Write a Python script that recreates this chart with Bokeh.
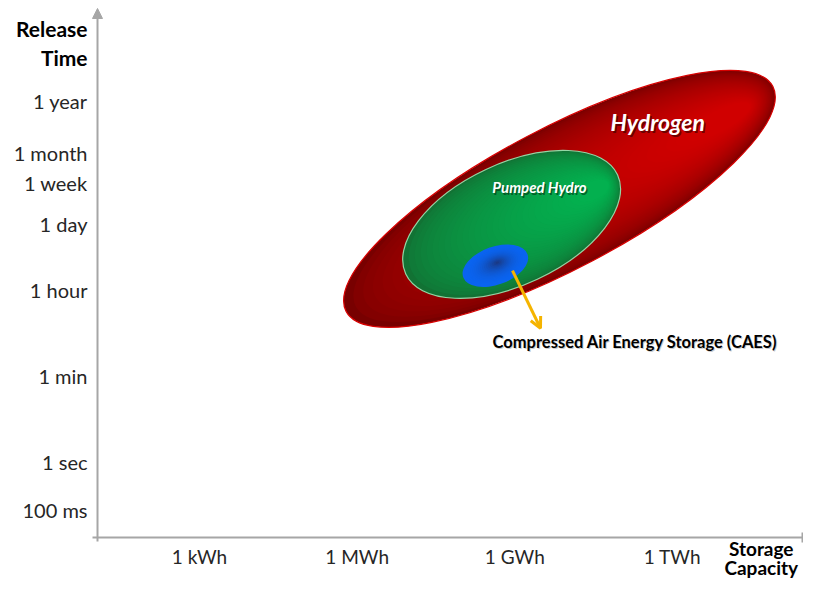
import numpy as np
from bokeh.plotting import figure
from bokeh.models import Range1d, FixedTicker, Label, Arrow, NormalHead, OpenHead, TeeHead, ColumnDataSource
from bokeh.embed import file_html
from bokeh.resources import INLINE

# ---------------- data ----------------
capacity_ticks = [3, 6, 9, 12]                       # log10(Wh)
capacity_labels = ["1 kWh", "1 MWh", "1 GWh", "1 TWh"]
time_seconds = [0.1, 1, 60, 3600, 86400, 604800, 2592000, 31536000]
time_labels = ["100 ms", "1 sec", "1 min", "1 hour", "1 day", "1 week", "1 month", "1 year"]

tech_names = ["Hydrogen", "Pumped Hydro", "Compressed Air Energy Storage (CAES)"]
tech_cap_center = [9.85, 8.94, 8.63]     # log10(Wh)
tech_time_center = [5.46, 4.93, 4.07]    # log10(s)
tech_cap_span = [9.18, 4.45, 1.30]       # decades
tech_time_span = [2.92, 2.52, 0.79]      # decades
tech_tilt_deg = [27.8, 25.1, 19.7]

# ---------------- figure ----------------
p = figure(width=803, height=583, output_backend="svg", toolbar_location=None,
           x_range=Range1d(-0.787, 14.494), y_range=Range1d(-2.536, 9.584),
           min_border=0, min_border_left=0, min_border_right=0,
           min_border_top=0, min_border_bottom=0)
p.grid.visible = False
p.outline_line_color = None
p.background_fill_color = "white"

X0, Y0 = 1.059, -1.580   # where the two axes cross

time_ticks = [round(float(np.log10(s)), 6) for s in time_seconds]
p.xaxis.ticker = FixedTicker(ticks=capacity_ticks)
p.xaxis.major_label_overrides = {t: l for t, l in zip(capacity_ticks, capacity_labels)}
p.yaxis.ticker = FixedTicker(ticks=time_ticks)
p.yaxis.major_label_overrides = {t: l for t, l in zip(time_ticks, time_labels)}
p.xaxis.fixed_location = Y0
p.yaxis.fixed_location = X0
for ax in (p.xaxis[0], p.yaxis[0]):
    ax.axis_line_color = None
    ax.major_tick_line_color = None
    ax.minor_tick_line_color = None
    ax.major_tick_out = 0
    ax.major_tick_in = 0
    ax.major_label_text_font = "Lato"
    ax.major_label_text_color = "#262626"
p.yaxis.major_label_text_font_size = "20px"
p.xaxis.major_label_text_font_size = "19px"
p.yaxis.major_label_standoff = 10
p.xaxis.major_label_standoff = 7

AX = "#a6a6a6"
# axis lines
p.add_layout(Arrow(end=NormalHead(size=10, fill_color=AX, line_color=AX),
                   x_start=X0, x_end=X0, y_start=-1.663, y_end=9.418,
                   line_color=AX, line_width=2))
p.add_layout(Arrow(end=TeeHead(size=10, line_color=AX, line_width=2),
                   x_start=0.964, x_end=14.475, y_start=Y0, y_end=Y0,
                   line_color=AX, line_width=2))


def mix(c0, c1, t):
    a = np.array([int(c0[i:i + 2], 16) for i in (1, 3, 5)], float)
    b = np.array([int(c1[i:i + 2], 16) for i in (1, 3, 5)], float)
    c = a + (b - a) * t
    return "#%02x%02x%02x" % tuple(int(round(v)) for v in c)


def shaded(i, focus, c_out, c_in, n, s_min, gamma):
    cx, cy = tech_cap_center[i], tech_time_center[i]
    fx, fy = focus
    xs, ys, ws, hs, cols = [], [], [], [], []
    for s in np.linspace(1.0, s_min, n):
        t = ((1 - s) / (1 - s_min)) ** gamma
        xs.append(fx + s * (cx - fx))
        ys.append(fy + s * (cy - fy))
        ws.append(tech_cap_span[i] * s)
        hs.append(tech_time_span[i] * s)
        cols.append(mix(c_out, c_in, t))
    src = ColumnDataSource(dict(x=xs, y=ys, w=ws, h=hs, c=cols))
    p.ellipse(x="x", y="y", width="w", height="h", angle=np.radians(tech_tilt_deg[i]),
              fill_color="c", line_color=None, source=src)


def rim(i, color, width):
    p.ellipse(x=tech_cap_center[i], y=tech_time_center[i], width=tech_cap_span[i],
              height=tech_time_span[i], angle=np.radians(tech_tilt_deg[i]),
              fill_color=None, line_color=color, line_width=width)


# Hydrogen
shaded(0, (13.4, 7.35), "#780000", "#d00000", 36, 0.15, 0.6)
rim(0, "#d80000", 1.2)
# Pumped hydro
shaded(1, (10.75, 5.75), "#127234", "#03b04f", 30, 0.15, 0.6)
rim(1, "#93d6a4", 1.2)
# CAES
shaded(2, (8.67, 4.14), "#0a64f0", "#1a3a86", 18, 0.05, 2.2)

# arrow to CAES label
p.add_layout(Arrow(end=OpenHead(size=11, line_color="#f5b400", line_width=3),
                   x_start=8.956, y_start=3.97, x_end=9.489, y_end=2.77,
                   line_color="#f5b400", line_width=3))

# in-chart labels
for dx, dy, col, alpha in ((1.5, -1.5, "#300000", 0.6), (0, 0, "white", 1.0)):
    p.add_layout(Label(x=11.72, y=7.05, x_offset=dx, y_offset=dy, text=tech_names[0],
                       text_font="Lato", text_font_style="bold italic", text_font_size="23px",
                       text_color=col, text_alpha=alpha, text_align="center", text_baseline="middle"))
    p.add_layout(Label(x=9.47, y=5.70, x_offset=dx, y_offset=dy, text=tech_names[1],
                       text_font="Lato", text_font_style="bold italic", text_font_size="15px",
                       text_color=col if col == "white" else "#003010", text_alpha=alpha,
                       text_align="center", text_baseline="middle"))
p.add_layout(Label(x=8.576, y=2.49, x_offset=1, y_offset=-1, text=tech_names[2],
                   text_font="Lato", text_font_style="bold", text_font_size="16.5px",
                   text_color="#999999", text_alpha=0.5, text_align="left", text_baseline="middle"))
p.add_layout(Label(x=8.576, y=2.49, text=tech_names[2],
                   text_font="Lato", text_font_style="bold", text_font_size="16.5px",
                   text_color="black", text_align="left", text_baseline="middle"))

# axis titles
for txt, y in (("Release", 9.00), ("Time", 8.40)):
    p.add_layout(Label(x=0.869, y=y, text=txt, text_font="Lato", text_font_style="bold",
                       text_font_size="21px", text_color="black",
                       text_align="right", text_baseline="middle"))
for txt, y in (("Storage", -1.80), ("Capacity", -2.21)):
    p.add_layout(Label(x=13.69, y=y, text=txt, text_font="Lato", text_font_style="bold",
                       text_font_size="19px", text_color="black",
                       text_align="center", text_baseline="middle"))

open("out.html", "w").write(file_html(p, INLINE))
